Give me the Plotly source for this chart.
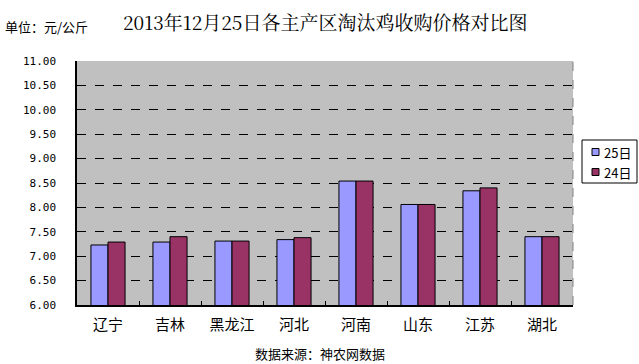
import plotly.graph_objects as go

categories = ["辽宁", "吉林", "黑龙江", "河北", "河南", "山东", "江苏", "湖北"]
values_25 = [7.23, 7.29, 7.31, 7.34, 8.54, 8.06, 8.34, 7.40]
values_24 = [7.29, 7.40, 7.31, 7.38, 8.54, 8.06, 8.40, 7.40]
series_names = ["25日", "24日"]
y_ticks = [6.0, 6.5, 7.0, 7.5, 8.0, 8.5, 9.0, 9.5, 10.0, 10.5, 11.0]

CJK = "Noto Sans CJK SC"
COLORS = ["#9999FF", "#993366"]
W, H = 639, 364
L, R, T, B = 77, 66, 61, 59
pw, ph = W - L - R, H - T - B


def px(x):
    return (x - L) / pw


def py(y):
    return (H - B - y) / ph


fig = go.Figure()
for name, vals, col in zip(series_names, [values_25, values_24], COLORS):
    fig.add_trace(go.Bar(x=categories, y=vals, name=name,
                         marker=dict(color=col, line=dict(color="#000000", width=1))))

fig.update_layout(
    width=W, height=H,
    margin=dict(l=L, r=R, t=T, b=B, autoexpand=False),
    paper_bgcolor="white",
    plot_bgcolor="#C0C0C0",
    barmode="group",
    bargap=0.45,
    bargroupgap=0,
    showlegend=False,
    xaxis=dict(showline=True, linecolor="black", linewidth=1.5, ticks="inside", tickson="boundaries",
               ticklen=4, tickcolor="black", tickfont=dict(family=CJK, size=15, color="black"),
               ticklabelstandoff=5, showgrid=False, automargin=False),
    yaxis=dict(range=[6, 11], tickvals=y_ticks, ticktext=[f"{v:.2f}" for v in y_ticks],
               showline=True, linecolor="black", linewidth=1.5, ticks="",
               showgrid=True, gridcolor="black", griddash="dash", gridwidth=1,
               tickfont=dict(family="DejaVu Sans Mono", size=11, color="black"),
               ticklabelstandoff=17, zeroline=False, automargin=False),
)

fig.add_annotation(text="2013年12月25日各主产区淘汰鸡收购价格对比图", x=px(325), y=py(21),
                   xref="paper", yref="paper", xanchor="center", yanchor="middle", showarrow=False,
                   font=dict(family="Noto Serif CJK SC, " + CJK, size=19, color="black"))
fig.add_annotation(text="单位：元/公斤", x=px(3), y=py(27), xref="paper", yref="paper",
                   xanchor="left", yanchor="middle", showarrow=False,
                   font=dict(family=CJK, size=13, color="black"))
fig.add_annotation(text="数据来源：神农网数据", x=px(320), y=py(353), xref="paper", yref="paper",
                   xanchor="center", yanchor="middle", showarrow=False,
                   font=dict(family=CJK, size=13, color="black"))

# right border (dashed gray)
fig.add_shape(type="line", xref="paper", yref="paper", x0=1, x1=1, y0=0, y1=1,
              line=dict(color="#808080", width=1, dash="dash"))

# legend box drawn manually
fig.add_shape(type="rect", xref="paper", yref="paper", x0=px(582), x1=px(637), y0=py(140), y1=py(183),
              line=dict(color="black", width=1), fillcolor="white")
for i, (name, col) in enumerate(zip(series_names, COLORS)):
    cy = 152 + i * 20
    fig.add_shape(type="rect", xref="paper", yref="paper", x0=px(592), x1=px(599),
                  y0=py(cy - 3.5), y1=py(cy + 3.5), line=dict(color="black", width=1), fillcolor=col)
    fig.add_annotation(text=name, x=px(602), y=py(cy), xref="paper", yref="paper",
                       xanchor="left", yanchor="middle", showarrow=False,
                       font=dict(family=CJK, size=13, color="black"))

fig.write_html("out.html", config={"displayModeBar": False},
               post_script="document.body.style.margin='0';document.body.style.overflow='hidden';")
